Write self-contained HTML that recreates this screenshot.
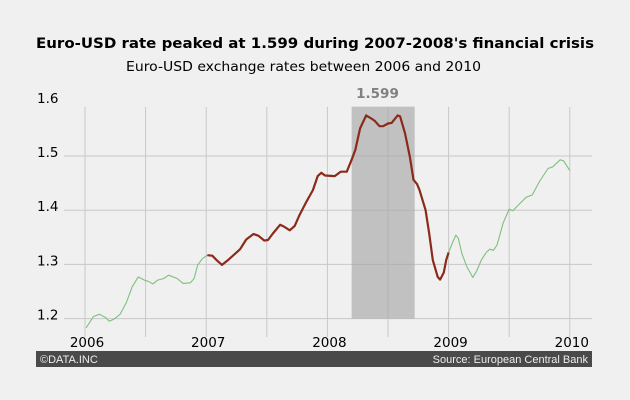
<!DOCTYPE html>
<html><head><meta charset="utf-8"><style>
body{margin:0;background:#f0f0f0;}
svg{display:block;font-family:"DejaVu Sans","Liberation Sans",sans-serif;}
</style></head><body>
<svg id="chart" width="630" height="400" viewBox="0 0 630 400">
<rect x="0" y="0" width="630" height="400" fill="#f0f0f0"/>
<text x="36" y="48" font-size="14" font-weight="bold" fill="#000" textLength="558" lengthAdjust="spacingAndGlyphs">Euro-USD rate peaked at 1.599 during 2007-2008's financial crisis</text>
<text x="126" y="71" font-size="13.5" fill="#000" textLength="355" lengthAdjust="spacingAndGlyphs">Euro-USD exchange rates between 2006 and 2010</text>
<g id="grid"></g>
<g id="marks"></g>
<rect x="36" y="351" width="556" height="16" fill="#4a4a4a"/>
<text x="40" y="363" font-size="11" fill="#eee" font-family="Liberation Sans, sans-serif">©DATA.INC</text>
<text x="588" y="363" text-anchor="end" font-size="11" fill="#eee" font-family="Liberation Sans, sans-serif">Source: European Central Bank</text>
</svg>
<script>
const yTicks=[1.2,1.3,1.4,1.5,1.6];
const xTicks=[2006,2007,2008,2009,2010];
const peakLabel="1.599";
const crisisStart=2008.2, crisisEnd=2008.72, crisisLow=1.2, crisisHigh=1.591;
const t1=[2006.01,2006.07,2006.12,2006.17,2006.20,2006.24,2006.29,2006.34,2006.39,2006.44,2006.50,2006.52,2006.56,2006.60,2006.65,2006.69,2006.76,2006.81,2006.87,2006.90,2006.93,2006.97,2007.01];
const v1=[1.183,1.204,1.208,1.202,1.195,1.199,1.208,1.229,1.259,1.277,1.270,1.269,1.264,1.271,1.274,1.280,1.274,1.265,1.266,1.274,1.299,1.311,1.317];
const t2=[2007.01,2007.05,2007.09,2007.13,2007.18,2007.24,2007.28,2007.33,2007.39,2007.43,2007.48,2007.51,2007.55,2007.61,2007.64,2007.69,2007.73,2007.77,2007.82,2007.88,2007.92,2007.95,2007.98,2008.06,2008.11,2008.16,2008.20,2008.23,2008.27,2008.32,2008.37,2008.39,2008.43,2008.46,2008.50,2008.53,2008.58,2008.60,2008.64,2008.68,2008.71,2008.74,2008.76,2008.81,2008.84,2008.87,2008.91,2008.93,2008.96,2008.98,2009.00];
const v2=[1.317,1.316,1.307,1.299,1.308,1.320,1.328,1.346,1.356,1.353,1.344,1.345,1.357,1.373,1.370,1.363,1.371,1.391,1.413,1.437,1.463,1.469,1.464,1.463,1.471,1.471,1.493,1.511,1.551,1.575,1.568,1.565,1.555,1.555,1.560,1.561,1.575,1.573,1.542,1.499,1.456,1.448,1.437,1.400,1.357,1.308,1.277,1.272,1.285,1.308,1.322];
const t3=[2009.00,2009.03,2009.06,2009.08,2009.11,2009.15,2009.20,2009.23,2009.27,2009.31,2009.34,2009.37,2009.40,2009.45,2009.50,2009.53,2009.59,2009.64,2009.69,2009.75,2009.82,2009.86,2009.92,2009.95,2010.00];
const v3=[1.322,1.339,1.354,1.348,1.320,1.296,1.276,1.287,1.308,1.322,1.328,1.326,1.336,1.376,1.402,1.399,1.413,1.424,1.428,1.453,1.477,1.480,1.493,1.491,1.473];
const NS="http://www.w3.org/2000/svg";
const X=t=>85+(t-2006)*121.2;
const Y=v=>156-(v-1.5)*542;
const grid=document.getElementById('grid'), marks=document.getElementById('marks');
function mk(tag,attrs,parent){const e=document.createElementNS(NS,tag);for(const k in attrs)e.setAttribute(k,attrs[k]);parent.appendChild(e);return e;}
yTicks.forEach(v=>{
  if(v<1.6){const l=mk('line',{x1:64,x2:592,y1:Y(v),y2:Y(v),stroke:'#c8c8c8','stroke-width':1},grid);
  
  }
  const t=mk('text',{x:37,y:Y(v)+1,'font-size':13.5,fill:'#000'},grid);
  t.textContent=v.toFixed(1);
  
  
});
for(let t=2006;t<=2010.001;t+=0.5){
  const l=mk('line',{x1:X(t),x2:X(t),y1:107,y2:337,stroke:'#c8c8c8','stroke-width':1},grid);
  
  
}
xTicks.forEach(t=>{
  const e=mk('text',{x:X(t)+2,y:347,'text-anchor':'middle','font-size':13.5,fill:'#000'},grid);
  e.textContent=t;
  
  
});
const r=mk('rect',{x:X(crisisStart),y:Y(crisisHigh),width:X(crisisEnd)-X(crisisStart),height:Y(crisisLow)-Y(crisisHigh),fill:'#a8a8a8','fill-opacity':0.65},marks);


const pl=mk('text',{x:(X(crisisStart)+X(crisisEnd))/2-27,y:98,'font-size':13.5,'font-weight':'bold',fill:'#808080'},marks);
pl.textContent=peakLabel;


function line(ts,vs,color,w,name){
  const d=ts.map((t,i)=>(i?'L':'M')+X(t).toFixed(1)+' '+Y(vs[i]).toFixed(1)).join(' ');
  const p=mk('path',{d:d,fill:'none',stroke:color,'stroke-width':w,'stroke-linejoin':'round'},marks);
  
  
}
line(t1,v1,'#7fbf7f',1.1,'rate-line-2006');
line(t3,v3,'#7fbf7f',1.1,'rate-line-2009');
line(t2,v2,'#8b2a1a',2.2,'rate-line-crisis');
</script>
</body></html>
